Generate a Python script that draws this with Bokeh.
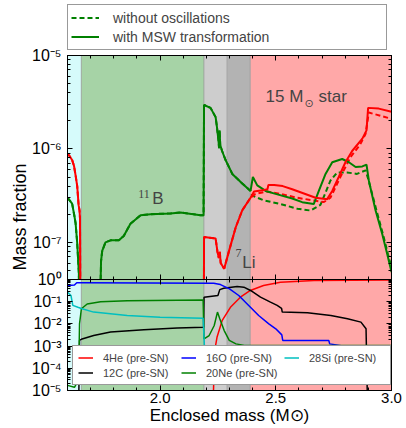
import math
from bokeh.plotting import figure
from bokeh.models import (Range1d, LogAxis, LinearAxis, FixedTicker, BoxAnnotation,
                          Legend, LegendItem, Label, Title, CustomJSTickFormatter)
from bokeh.layouts import column
from bokeh.embed import file_html
from bokeh.resources import INLINE

nan = float("nan")

# ---------------- data ----------------
zone_edges = [1.60, 1.66, 2.19, 2.29, 2.39, 3.00]
zone_colors = ["#d6fbfb", "#a6d3a6", "#cdcdcd", "#b3b3b3", "#ffa8a8"]

x_ticks = [2.0, 2.5, 3.0]
x_minor = [1.6, 1.7, 1.8, 1.9, 2.0, 2.1, 2.2, 2.3, 2.4, 2.5, 2.6, 2.7, 2.8, 2.9, 3.0]
top_y_ticks = [1e-7, 1e-6, 1e-5]
bot_y_ticks = [1e-5, 1e-4, 1e-3, 1e-2, 1e-1, 1e0]

# 11B, common part of both runs (up to 2.39 Msun)
b11_inner_x = [1.600, 1.610, 1.620, 1.630, 1.635, 1.642, 1.649, 1.652, nan,
               1.738, 1.745, 1.750, 1.764, 1.786, 1.822, 1.843, 1.872, 1.916, 1.959,
               2.045, 2.088, 2.175, 2.188, 2.190, 2.218, 2.240, 2.245, 2.252, 2.255,
               2.257, 2.260, 2.268, 2.283, 2.312, 2.355, 2.391]
b11_inner_y = [3.0e-7, 2.8e-7, 2.6e-7, 1.9e-7, 1.6e-7, 9.8e-8, 4.7e-8, 1e-8, nan,
               1e-8, 6.3e-8, 8.1e-8, 1.0e-7, 1.05e-7, 1.05e-7, 1.17e-7, 1.58e-7, 1.95e-7, 2.0e-7,
               2.04e-7, 2.09e-7, 1.95e-7, 1.95e-7, 2.95e-6, 2.75e-6, 2.19e-6, 1.78e-6, 1.26e-6, 1.02e-6,
               1.58e-6, 1.1e-6, 9.5e-7, 7.6e-7, 5.4e-7, 4.27e-7, 3.55e-7]
b11_msw_outer_x = [2.401, 2.420, 2.456, 2.499, 2.571, 2.614, 2.664, 2.686, 2.715, 2.744,
                   2.787, 2.816, 2.845, 2.874, 2.892, 2.902, 2.931, 2.960, 2.982, 3.000]
b11_msw_outer_y = [5.0e-7, 4.07e-7, 3.55e-7, 3.3e-7, 2.95e-7, 2.69e-7, 2.57e-7, 3.55e-7, 5.4e-7, 7.2e-7,
                   7.8e-7, 7.2e-7, 6.4e-7, 6.5e-7, 6.8e-7, 4.6e-7, 2.2e-7, 1.23e-7, 7.4e-8, 4.8e-8]
b11_noosc_outer_x = [2.398, 2.447, 2.520, 2.593, 2.650, 2.693, 2.736, 2.765, 2.808, 2.851,
                     2.888, 2.900, 2.935, 2.965, 2.985, 3.000]
b11_noosc_outer_y = [3.16e-7, 2.82e-7, 2.57e-7, 2.29e-7, 2.19e-7, 2.51e-7, 4.57e-7, 5.6e-7, 5.6e-7, 5.4e-7,
                     5.9e-7, 4.7e-7, 2.2e-7, 1.17e-7, 7.4e-8, 5.4e-8]

# 7Li
li7_inner_x = [1.600, 1.610, 1.620, 1.628, 1.635, 1.642, 1.648, 1.652, 1.654, 1.656, nan,
               2.189, 2.190, 2.240, 2.248, 2.254, 2.258, 2.262, 2.277, 2.298, 2.327, 2.355, 2.391]
li7_inner_y = [8.9e-7, 8.3e-7, 7.6e-7, 6.6e-7, 5.2e-7, 4.0e-7, 2.5e-7, 2.2e-7, 1.8e-7, 1e-8, nan,
               1e-8, 1.14e-7, 1.1e-7, 7.9e-8, 6.8e-8, 7.9e-8, 6.0e-8, 5.2e-8, 8.1e-8, 1.45e-7, 2.2e-7, 3.0e-7]
li7_msw_outer_x = [2.406, 2.442, 2.464, 2.468, 2.493, 2.530, 2.571, 2.672, 2.722, 2.744,
                   2.772, 2.801, 2.830, 2.874, 2.892, 2.899, 2.945, 3.000]
li7_msw_outer_y = [3.5e-7, 3.6e-7, 3.7e-7, 4.1e-7, 4.1e-7, 4.0e-7, 3.7e-7, 3.0e-7, 2.9e-7, 3.55e-7,
                   5.0e-7, 7.2e-7, 9.5e-7, 1.29e-6, 1.58e-6, 2.75e-6, 2.7e-6, 2.5e-6]
li7_noosc_outer_x = [2.412, 2.463, 2.520, 2.593, 2.665, 2.708, 2.736, 2.779, 2.822, 2.865,
                     2.888, 2.902, 3.000]
li7_noosc_outer_y = [3.3e-7, 3.5e-7, 3.3e-7, 3.0e-7, 2.8e-7, 2.7e-7, 3.0e-7, 5.0e-7, 8.1e-7, 1.12e-6,
                     1.45e-6, 2.45e-6, 2.1e-6]

# pre-SN composition (bottom panel)
he4_x = [2.228, 2.236, 2.246, 2.268, 2.304, 2.347, 2.390, 2.447, 2.520, 2.665, 3.000]
he4_y = [1e-6, 6.3e-4, 2.5e-3, 1.4e-2, 5.6e-2, 0.16, 0.32, 0.54, 0.76, 0.89, 0.95]

c12_x = [1.648, 1.652, 1.663, 1.713, 1.786, 1.930, 2.074, 2.188, 2.190, 2.250, 2.258, 2.275,
         2.333, 2.362, 2.391, 2.434, 2.477, 2.506, 2.525, 2.528, 2.637, 2.738, 2.810, 2.868, 2.890, 2.897]
c12_y = [1e-6, 1.8e-3, 2.1e-3, 3.0e-3, 4.3e-3, 5.4e-3, 6.5e-3, 7.1e-3, 0.16, 0.19, 0.35, 0.40,
         0.48, 0.45, 0.32, 0.16, 0.095, 0.068, 0.05, 0.034, 0.032, 0.024, 0.017, 0.012, 6.0e-3, 1e-6]

o16_x = [1.600, 1.630, 1.640, 1.660, 2.232, 2.261, 2.300, 2.340, 2.383, 2.426, 2.470, 2.500,
         2.526, 2.530, 2.729, 2.733, 2.825, 2.911, 3.000]
o16_y = [0.54, 0.56, 0.71, 0.71, 0.68, 0.59, 0.38, 0.19, 0.068, 0.024, 0.010, 6.0e-3,
         3.2e-3, 1.8e-3, 1.8e-3, 1.26e-3, 8.9e-4, 5.4e-4, 3.2e-4]

ne20_x = [1.600, 1.630, 1.642, 1.648, 1.652, 1.660, 1.685, 1.743, 1.858, 2.186, 2.190, 2.212,
          2.234, 2.248, 2.258, 2.277, 2.299, 2.328, 2.364, 3.000]
ne20_y = [1.7e-5, 1.4e-5, 2.3e-5, 3.2e-5, 1e-2, 0.048, 0.079, 0.10, 0.11, 0.12, 2.1e-3, 3.0e-3,
          8.5e-3, 0.034, 0.017, 5.0e-3, 1.8e-3, 1.26e-3, 1.07e-3, 1.07e-3]

si28_x = [1.600, 1.615, 1.623, 1.645, 1.663, 1.713, 1.858, 2.000, 2.186, 2.192, 2.210, 2.260,
          2.300, 2.350, 3.000]
si28_y = [0.27, 0.19, 0.068, 0.056, 0.048, 0.034, 0.024, 0.020, 0.018, 7.9e-4, 5.0e-4, 5.0e-4,
          6.3e-4, 7.1e-4, 7.4e-4]

# ---------------- helpers ----------------
FONT = "Liberation Sans"

SUP_CODE = """
const e = Math.round(Math.log10(tick));
const m = {'-':'⁻','0':'⁰','1':'¹','2':'²','3':'³','4':'⁴','5':'⁵','6':'⁶','7':'⁷','8':'⁸','9':'⁹'};
return '10' + String(e).split('').map(c => m[c]).join('');
"""
BLANK_CODE = "return ' ';"
FIX1_CODE = "return tick.toFixed(1);"


def minor_log(lo, hi):
    out = []
    for e in range(-9, 2):
        for m in range(2, 10):
            v = m * 10.0 ** e
            if lo <= v <= hi:
                out.append(v)
    return out


def style_axis(ax, labels):
    ax.major_tick_in = 5
    ax.major_tick_out = 0
    ax.minor_tick_in = 3
    ax.minor_tick_out = 0
    ax.axis_line_color = "black"
    ax.major_tick_line_color = "black"
    ax.minor_tick_line_color = "black"
    if labels:
        ax.major_label_text_font = FONT
        ax.major_label_text_font_size = "16px"
        ax.major_label_text_color = "black"
    else:
        ax.formatter = CustomJSTickFormatter(code=BLANK_CODE)
        ax.major_label_text_font_size = "2px"
        ax.major_label_standoff = 0


def add_zones(p):
    for i in range(len(zone_colors)):
        p.add_layout(BoxAnnotation(left=zone_edges[i], right=zone_edges[i + 1],
                                   fill_color=zone_colors[i], fill_alpha=1.0,
                                   line_color="#9a9a9a", line_alpha=0.6, line_width=1,
                                   level="underlay"))


def setup_axes(p, ylo, yhi, yticks, show_x):
    p.grid.visible = False
    p.outline_line_color = "black"
    left = p.left[0]
    left.ticker = FixedTicker(ticks=yticks, minor_ticks=minor_log(ylo, yhi))
    left.formatter = CustomJSTickFormatter(code=SUP_CODE)
    left.major_label_standoff = 6
    style_axis(left, True)
    right = LogAxis(ticker=FixedTicker(ticks=yticks, minor_ticks=minor_log(ylo, yhi)))
    style_axis(right, False)
    p.add_layout(right, "right")
    below = p.below[0]
    below.ticker = FixedTicker(ticks=x_ticks, minor_ticks=x_minor)
    style_axis(below, show_x)
    if show_x:
        below.formatter = CustomJSTickFormatter(code=FIX1_CODE)
        below.major_label_standoff = 2
        below.major_label_text_font_size = "15px"
    above = LinearAxis(ticker=FixedTicker(ticks=x_ticks, minor_ticks=x_minor))
    style_axis(above, False)
    p.add_layout(above, "above")


# ---------------- legend strip (top) ----------------
pL = figure(width=406, height=55, x_range=Range1d(0, 1), y_range=Range1d(0, 1),
            x_axis_location=None, y_axis_location=None, output_backend="svg", toolbar_location=None,
            min_border_left=67, min_border_right=15, min_border_top=0, min_border_bottom=0,
            outline_line_color=None, background_fill_color=None, border_fill_color=None)
pL.grid.visible = False
# legend-only proxies (no data of their own)
d_no = pL.line(x=[nan], y=[nan], line_color="green", line_width=2, line_dash="5 3")
d_msw = pL.line(x=[nan], y=[nan], line_color="green", line_width=2)
leg1 = Legend(items=[LegendItem(label="without oscillations", renderers=[d_no], index=0),
                     LegendItem(label="with MSW transformation", renderers=[d_msw], index=0)],
              location=(0, 5), margin=0, padding=3, spacing=0,
              glyph_width=28, glyph_height=19, label_height=19, label_width=270,
              label_standoff=14, label_text_font=FONT, label_text_font_size="14px",
              border_line_color="#333333", border_line_width=1,
              background_fill_color="white", background_fill_alpha=1.0)
pL.add_layout(leg1, "center")

# ---------------- top panel ----------------
T1 = 12
B1 = 30
T2 = 14
p1 = figure(width=406, height=T1 + 224 + B1, x_range=Range1d(1.6, 3.0), y_range=Range1d(4e-8, 1e-5),
            y_axis_type="log", output_backend="svg", toolbar_location=None,
            min_border_left=67, min_border_right=15, min_border_top=T1, min_border_bottom=B1,
            border_fill_color=None)
p1.margin = (-T1, 0, 0, 0)
setup_axes(p1, 4e-8, 1e-5, top_y_ticks, False)
add_zones(p1)

p1.line(b11_inner_x + b11_noosc_outer_x, b11_inner_y + b11_noosc_outer_y,
        line_color="green", line_width=2, line_dash="5 3")
p1.line(li7_inner_x + li7_noosc_outer_x, li7_inner_y + li7_noosc_outer_y,
        line_color="red", line_width=2, line_dash="5 3")
p1.line(b11_inner_x + b11_msw_outer_x, b11_inner_y + b11_msw_outer_y,
        line_color="green", line_width=2)
p1.line(li7_inner_x + li7_msw_outer_x, li7_inner_y + li7_msw_outer_y,
        line_color="red", line_width=2)

ytitle = Title(text="Mass fraction", align="left", offset=9, standoff=0,
               text_font=FONT, text_font_size="18px", text_font_style="normal", text_color="black")
p1.add_layout(ytitle, "left")

p1.add_layout(Label(x=2.456, y=3.64e-6, text="15 M", text_font=FONT, text_font_size="17px",
                    text_baseline="middle", text_align="left"))
p1.add_layout(Label(x=2.624, y=3.1e-6, text="⊙", text_font="DejaVu Sans", text_font_size="11px",
                    text_baseline="middle", text_align="left"))
p1.add_layout(Label(x=2.685, y=3.64e-6, text="star", text_font=FONT, text_font_size="17px",
                    text_baseline="middle", text_align="left"))
p1.add_layout(Label(x=1.9055, y=3.33e-7, text="11", text_font="Liberation Serif", text_font_size="12px",
                    text_baseline="middle", text_align="left"))
p1.add_layout(Label(x=1.966, y=2.94e-7, text="B", text_font=FONT, text_font_size="17px",
                    text_baseline="middle", text_align="left"))
p1.add_layout(Label(x=2.326, y=7.6e-8, text="7", text_font="Liberation Serif", text_font_size="12px",
                    text_baseline="middle", text_align="left"))
p1.add_layout(Label(x=2.355, y=6.1e-8, text="Li", text_font=FONT, text_font_size="17px",
                    text_baseline="middle", text_align="left"))

# ---------------- bottom panel ----------------
p2 = figure(width=406, height=T2 + 111 + 38, x_range=Range1d(1.6, 3.0), y_range=Range1d(1e-5, 1.0),
            y_axis_type="log", output_backend="svg", toolbar_location=None,
            min_border_left=67, min_border_right=15, min_border_top=T2, min_border_bottom=38,
            border_fill_color=None)
p2.margin = (-(B1 + T2), 0, 0, 0)
setup_axes(p2, 1e-5, 1.0, bot_y_ticks, True)
add_zones(p2)
xa = p2.below[0]
xa.axis_label = "Enclosed mass (M⊙)"
xa.axis_label_standoff = 0
xa.axis_label_text_font = FONT
xa.axis_label_text_font_size = "17px"
xa.axis_label_text_font_style = "normal"
xa.axis_label_text_color = "black"

r_he = p2.line(he4_x, he4_y, line_color="red", line_width=1.5)
r_c = p2.line(c12_x, c12_y, line_color="black", line_width=1.5)
r_o = p2.line(o16_x, o16_y, line_color="blue", line_width=1.5)
r_ne = p2.line(ne20_x, ne20_y, line_color="green", line_width=1.5)
r_si = p2.line(si28_x, si28_y, line_color="#00bfbf", line_width=1.5)

leg2 = Legend(items=[LegendItem(label="4He (pre-SN)", renderers=[r_he]),
                     LegendItem(label="16O (pre-SN)", renderers=[r_o]),
                     LegendItem(label="28Si (pre-SN)", renderers=[r_si]),
                     LegendItem(label="12C (pre-SN)", renderers=[r_c]),
                     LegendItem(label="20Ne (pre-SN)", renderers=[r_ne])],
              orientation="horizontal", ncols=3,
              location=(5, 5), margin=0, padding=5, spacing=2,
              glyph_width=15, glyph_height=13, label_height=13, label_width=76,
              label_standoff=10, label_text_font=FONT, label_text_font_size="11px",
              border_line_color="#333333", border_line_width=1,
              background_fill_color="white", background_fill_alpha=1.0)
p2.add_layout(leg2, "center")

layout = column(pL, p1, p2, spacing=0)
open("out.html", "w").write(file_html(layout, INLINE))
